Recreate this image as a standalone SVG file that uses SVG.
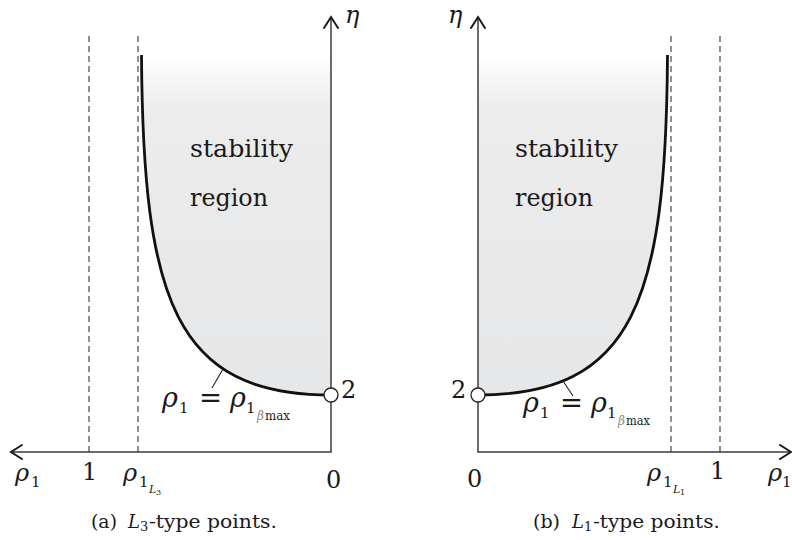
<svg xmlns="http://www.w3.org/2000/svg" width="792" height="540" viewBox="0 0 792 540">
<style>
text{font-family:'DejaVu Serif','Liberation Serif',serif;fill:#1a1a1a}
.it{font-style:italic}
.ax{stroke:#3c3c3c;stroke-width:1.5;fill:none}
.ah{stroke:#1a1a1a;stroke-width:2;fill:none;stroke-linecap:round;stroke-linejoin:miter}
.dash{stroke:#555;stroke-width:1.3;stroke-dasharray:6 4;fill:none}
.curve{stroke:#111;stroke-width:2.8;fill:none}
.tick{stroke:#222;stroke-width:1.1}
.pt{fill:#fff;stroke:#222;stroke-width:1.3}
.lab{font-size:24px}
.sub{font-size:15px}
.ss{font-size:11px}
.f{font-size:27px}
.fs{font-size:15px}
.fss{font-size:12px}
.cap{font-size:18px}
.reg{font-size:25px}
</style>
<defs>
<linearGradient id="g" x1="0" y1="55" x2="0" y2="395" gradientUnits="userSpaceOnUse">
<stop offset="0" stop-color="#ffffff"/>
<stop offset="0.16" stop-color="#ececed"/>
<stop offset="1" stop-color="#e6e7e8"/>
</linearGradient>
</defs>

<g id="panel-a">
<g id="region-a">
<path d="M141.5,55 C143,300 175,395 331,395 L331,55 Z" fill="url(#g)"/>
<text class="reg" x="190" y="157" textLength="103" lengthAdjust="spacingAndGlyphs">stability</text>
<text class="reg" x="190" y="206" textLength="78" lengthAdjust="spacingAndGlyphs">region</text>
</g>
<g id="connectors-a">
<path class="dash" d="M89,36 V452 M138,36 V452"/>
<path class="ax" d="M331,18 V452 H12"/>
<path class="ah" d="M324,28 L331,17 L338,28"/>
<path class="ah" d="M22,445 L11,452 L22,459"/>
<path class="curve" d="M141.5,55 C143,300 175,395 331,395"/>
<path class="tick" d="M223,369 L212,388"/>
</g>
<g id="point-a">
<circle class="pt" cx="331" cy="395" r="7"/>
<text class="lab" x="341" y="398">2</text>
</g>
<g id="labels-a">
<text class="lab it" x="345" y="23">η</text>
<text class="lab it" x="15" y="481">ρ</text>
<text class="sub" x="31" y="487">1</text>
<text class="lab" x="82" y="480">1</text>
<text class="lab it" x="123" y="481">ρ</text>
<text class="sub" x="139" y="487">1</text>
<text class="ss it" x="149" y="493">L</text>
<text style="font-size:8px" x="156" y="495">3</text>
<text class="lab" x="326" y="488">0</text>
</g>
<g id="formula-a">
<text class="f it" x="162" y="407">ρ</text>
<text class="fs" x="179" y="413">1</text>
<text class="f" x="199" y="407" textLength="23" lengthAdjust="spacingAndGlyphs">=</text>
<text class="f it" x="230" y="407">ρ</text>
<text class="fs" x="246" y="413">1</text>
<text class="fss it" x="257" y="420" style="fill:#888">β</text>
<text class="fss" x="265" y="420" textLength="25" lengthAdjust="spacingAndGlyphs">max</text>
</g>
<g id="caption-a">
<text class="cap" x="91" y="528" textLength="26" lengthAdjust="spacingAndGlyphs">(a)</text>
<text class="cap it" x="128" y="528">L</text>
<text style="font-size:13px" x="140" y="531">3</text>
<text class="cap" x="149" y="528" textLength="128" lengthAdjust="spacingAndGlyphs">-type points.</text>
</g>
</g>

<g id="panel-b">
<g id="region-b">
<path d="M478,395 C634,395 666,300 667.5,55 L478,55 Z" fill="url(#g)"/>
<text class="reg" x="515" y="157" textLength="103" lengthAdjust="spacingAndGlyphs">stability</text>
<text class="reg" x="515" y="206" textLength="78" lengthAdjust="spacingAndGlyphs">region</text>
</g>
<g id="connectors-b">
<path class="dash" d="M671,36 V452 M720,36 V452"/>
<path class="ax" d="M478,18 V452 H790"/>
<path class="ah" d="M471,28 L478,17 L485,28"/>
<path class="ah" d="M780,445 L791,452 L780,459"/>
<path class="curve" d="M478,395 C634,395 666,300 667.5,55"/>
<path class="tick" d="M563,381 L573,396"/>
</g>
<g id="point-b">
<circle class="pt" cx="478" cy="395" r="7"/>
<text class="lab" x="451" y="398">2</text>
</g>
<g id="labels-b">
<text class="lab it" x="448" y="23">η</text>
<text class="lab" x="467" y="487">0</text>
<text class="lab it" x="647" y="481">ρ</text>
<text class="sub" x="663" y="487">1</text>
<text class="ss it" x="673" y="493">L</text>
<text style="font-size:8px" x="680" y="495">1</text>
<text class="lab" x="710" y="479">1</text>
<text class="lab it" x="768" y="481">ρ</text>
<text class="sub" x="782" y="487">1</text>
</g>
<g id="formula-b">
<text class="f it" x="523" y="412">ρ</text>
<text class="fs" x="540" y="418">1</text>
<text class="f" x="560" y="412" textLength="23" lengthAdjust="spacingAndGlyphs">=</text>
<text class="f it" x="591" y="412">ρ</text>
<text class="fs" x="607" y="418">1</text>
<text class="fss it" x="618" y="425" style="fill:#888">β</text>
<text class="fss" x="626" y="425" textLength="24" lengthAdjust="spacingAndGlyphs">max</text>
</g>
<g id="caption-b">
<text class="cap" x="533" y="528" textLength="27" lengthAdjust="spacingAndGlyphs">(b)</text>
<text class="cap it" x="572" y="528">L</text>
<text style="font-size:13px" x="584" y="531">1</text>
<text class="cap" x="593" y="528" textLength="127" lengthAdjust="spacingAndGlyphs">-type points.</text>
</g>
</g>
</svg>
